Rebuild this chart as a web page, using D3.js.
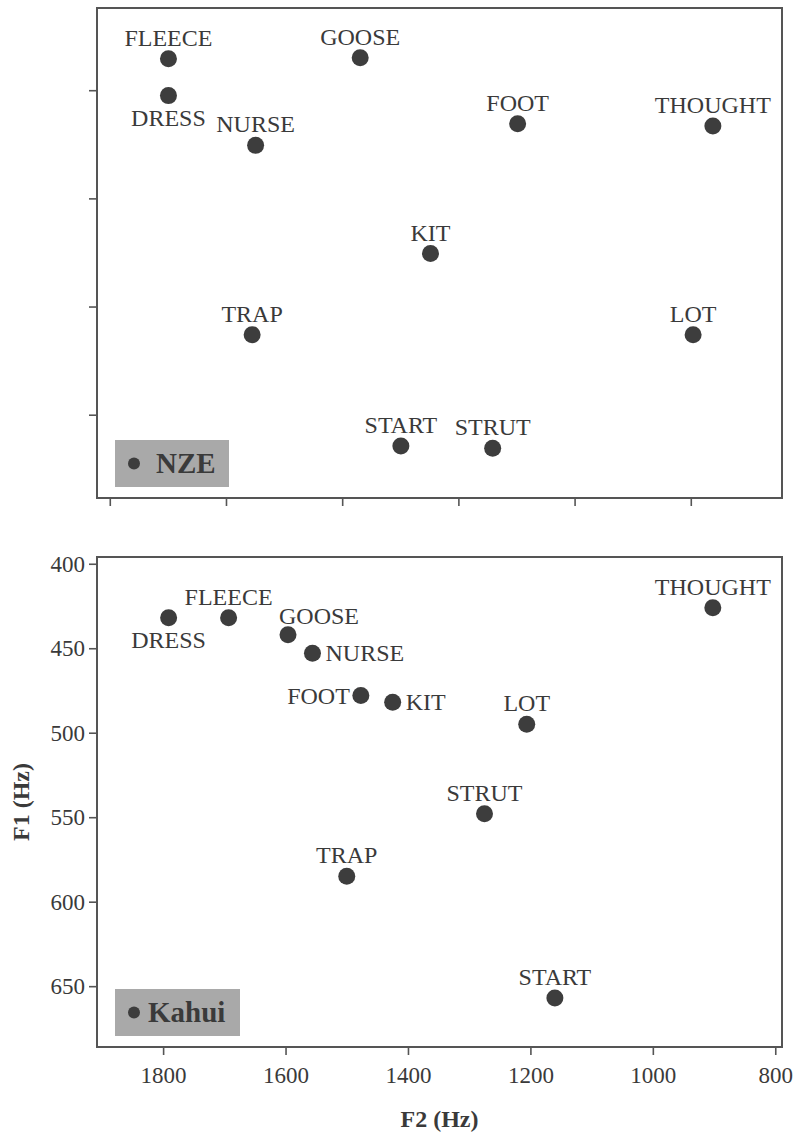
<!DOCTYPE html>
<html>
<head>
<meta charset="utf-8">
<script src="https://cdn.jsdelivr.net/npm/d3@7"></script>
<style>
  html, body { margin: 0; padding: 0; background: #fff; }
  svg { display: block; }
</style>
</head>
<body>
<script>
// vowel categories, same order in both panels
const vowels = ["FLEECE", "DRESS", "GOOSE", "NURSE", "FOOT", "THOUGHT", "KIT", "TRAP", "LOT", "START", "STRUT"];

// NZE panel (top) - axis values are not labelled in the source
const nzeF2 = [1899, 1899, 1569, 1749, 1298, 962, 1448, 1755, 996, 1499, 1341];
const nzeF1 = [271, 305, 270, 351, 331, 333, 451, 526, 526, 629, 631];

// Kahui panel (bottom)
const kahuiF2 = [1693, 1791, 1596, 1556, 1477, 902, 1425, 1500, 1206, 1160, 1275];
const kahuiF1 = [432, 432, 442, 453, 478, 426, 482, 585, 495, 657, 548];

// ticks
const topF2Ticks = [2000, 1800, 1600, 1400, 1200, 1000];
const topF1Ticks = [300, 400, 500, 600];
const bottomF2Ticks = [1800, 1600, 1400, 1200, 1000, 800];
const bottomF1Ticks = [400, 450, 500, 550, 600, 650];

const W = 798, H = 1134;
const frameColor = "#555555";
const dotColor = "#3d3d3d";
const textColor = "#3a3a3a";
const legendFill = "#a9a9a9";
const serif = "'Liberation Serif', 'Times New Roman', serif";

const svg = d3.select("body").append("svg")
  .attr("width", W)
  .attr("height", H);

const left = 97, right = 782;

function panel(cfg) {
  const x = d3.scaleLinear().domain(cfg.xDomain).range([left, right]);
  const y = d3.scaleLinear().domain(cfg.yDomain).range([cfg.top, cfg.bottom]);

  const g = svg.append("g");

  // axes
  const xAxis = d3.axisBottom(x).tickValues(cfg.xTicks).tickSize(8).tickPadding(12)
    .tickFormat(cfg.labels ? d3.format("d") : () => "");
  const yAxis = d3.axisLeft(y).tickValues(cfg.yTicks).tickSize(8).tickPadding(4)
    .tickFormat(cfg.labels ? d3.format("d") : () => "");

  const gx = g.append("g").attr("transform", `translate(0,${cfg.bottom})`).call(xAxis);
  const gy = g.append("g").attr("transform", `translate(${left},0)`).call(yAxis);
  [gx, gy].forEach(a => {
    a.select(".domain").remove();
    a.selectAll(".tick line").attr("stroke", frameColor).attr("stroke-width", 1.6);
    a.selectAll(".tick text")
      .attr("fill", textColor)
      .style("font-family", serif)
      .style("font-size", "23px");
  });

  // frame
  g.append("rect")
    .attr("x", left).attr("y", cfg.top)
    .attr("width", right - left).attr("height", cfg.bottom - cfg.top)
    .attr("fill", "none")
    .attr("stroke", frameColor)
    .attr("stroke-width", 2);

  const pts = vowels.map((v, i) => ({ v, f2: cfg.f2[i], f1: cfg.f1[i] }));

  g.append("g").selectAll("circle")
    .data(pts)
    .join("circle")
      .attr("cx", d => x(d.f2))
      .attr("cy", d => y(d.f1))
      .attr("r", 8.5)
      .attr("fill", dotColor);

  const place = d => cfg.labelPos[d.v] || "above";
  g.append("g").selectAll("text")
    .data(pts)
    .join("text")
      .attr("x", d => {
        const p = place(d), cx = x(d.f2);
        if (p === "right") return cx + 13;
        if (p === "left") return cx - 11;
        if (p === "aboveRight") return cx - 9;
        return cx;
      })
      .attr("y", d => {
        const p = place(d), cy = y(d.f1);
        if (p === "below") return cy + 30;
        if (p === "right" || p === "left") return cy + 8;
        if (p === "aboveRight") return cy - 11;
        return cy - 13;
      })
      .attr("text-anchor", d => {
        const p = place(d);
        if (p === "right" || p === "aboveRight") return "start";
        if (p === "left") return "end";
        return "middle";
      })
      .attr("fill", textColor)
      .style("font-family", serif)
      .style("font-size", "24px")
      .text(d => d.v);

  // legend box
  const lg = g.append("g");
  lg.append("rect")
    .attr("x", 115).attr("y", cfg.bottom - 58)
    .attr("width", cfg.legendWidth).attr("height", 47)
    .attr("fill", legendFill);
  lg.append("circle")
    .attr("cx", 134).attr("cy", cfg.bottom - 34.5)
    .attr("r", 6)
    .attr("fill", dotColor);
  lg.append("text")
    .attr("x", cfg.legendTextX).attr("y", cfg.bottom - 25)
    .attr("fill", "#3a3a3a")
    .style("font-family", serif)
    .style("font-size", "29px")
    .style("font-weight", "bold")
    .text(cfg.name);

  return { x, y };
}

panel({
  name: "NZE",
  top: 8, bottom: 498,
  xDomain: [2022, 843], yDomain: [224, 677],
  xTicks: topF2Ticks, yTicks: topF1Ticks,
  labels: false,
  f2: nzeF2, f1: nzeF1,
  labelPos: { DRESS: "below" },
  legendWidth: 114, legendTextX: 156
});

panel({
  name: "Kahui",
  top: 557, bottom: 1047,
  xDomain: [1908, 789], yDomain: [396, 686],
  xTicks: bottomF2Ticks, yTicks: bottomF1Ticks,
  labels: true,
  f2: kahuiF2, f1: kahuiF1,
  labelPos: { DRESS: "below", GOOSE: "aboveRight", NURSE: "right", FOOT: "left", KIT: "right" },
  legendWidth: 125, legendTextX: 148
});

// axis titles
svg.append("text")
  .attr("x", (left + right) / 2).attr("y", 1127)
  .attr("text-anchor", "middle")
  .attr("fill", textColor)
  .style("font-family", serif)
  .style("font-size", "24px")
  .style("font-weight", "bold")
  .text("F2 (Hz)");

svg.append("text")
  .attr("transform", "translate(29,802) rotate(-90)")
  .attr("text-anchor", "middle")
  .attr("fill", textColor)
  .style("font-family", serif)
  .style("font-size", "24px")
  .style("font-weight", "bold")
  .text("F1 (Hz)");
</script>
</body>
</html>
